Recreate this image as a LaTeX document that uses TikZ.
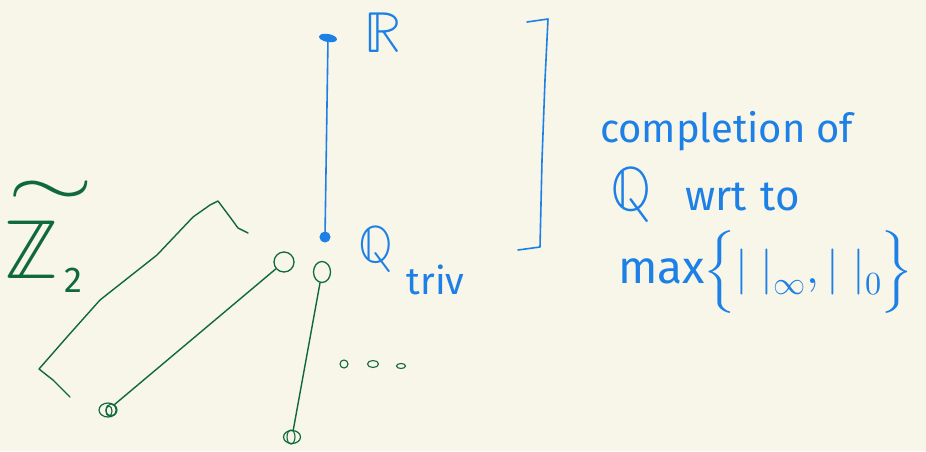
\documentclass[tikz,border=0pt]{standalone}
\usepackage{fontspec}
\usepackage{unicode-math}
\setmainfont{Fira Sans}
\setmathfont{Latin Modern Math}
\usetikzlibrary{shapes.geometric}

\definecolor{paper}{HTML}{F8F5E9}
\definecolor{inkblue}{HTML}{1C80E6}
\definecolor{inkgreen}{HTML}{10693E}

\tikzset{
  blueline/.style={draw=inkblue, line width=1.6pt, line cap=round, line join=round},
  greenline/.style={draw=inkgreen, line width=1.4pt, line cap=round, line join=round},
  bluetext/.style={text=inkblue, inner sep=0pt, outer sep=0pt},
  greentext/.style={text=inkgreen, inner sep=0pt, outer sep=0pt},
  bluedot/.style={circle, fill=inkblue, draw=inkblue, line width=1pt, inner sep=0pt, minimum size=10pt},
  flatdot/.style={ellipse, fill=inkblue, draw=inkblue, line width=1pt, inner sep=0pt,
                  minimum width=17pt, minimum height=7pt, rotate=-10},
  opendot/.style={ellipse, draw=inkgreen, line width=1.3pt, inner sep=0pt},
  scribble/.style={ellipse, draw=inkgreen, line width=1.2pt, inner sep=0pt,
                   minimum width=18pt, minimum height=14pt},
  tinyloop/.style={ellipse, draw=inkgreen, line width=1.1pt, inner sep=0pt}
}

\begin{document}
\begin{tikzpicture}[x=1pt, y=-1pt]
  \useasboundingbox (0,0) rectangle (926,451);
  \fill[paper] (0,0) rectangle (926,451);

  % ---------- the real line R over Q_triv ----------
  \node[flatdot] (rdot) at (328,38) {};
  \node[bluedot] (qdot) at (325,237) {};
  \draw[blueline] (rdot) -- (qdot);

  \node[bluetext, anchor=base west] (rlabel) at (364,52)
    {\fontsize{58}{60}\selectfont$\mathbb{R}$};
  \node[bluetext, anchor=base west] (qlabel) at (358,262)
    {\fontsize{52}{54}\selectfont$\mathbb{Q}$\kern14pt\lower32pt\hbox{\fontsize{38}{40}\selectfont triv}};

  % closing bracket for the completion
  \draw[blueline] (527,22) -- (548,19) -- (545,80) -- (542,160) -- (540,247) -- (518,250);

  % ---------- explanation ----------
  \node[bluetext, anchor=base west] (line1) at (600,142)
    {\fontsize{40}{42}\selectfont completion of};
  \node[bluetext, anchor=base west] (line2) at (610,210)
    {\fontsize{42}{44}\selectfont{\fontsize{62}{64}\selectfont$\mathbb{Q}$}\hspace{34pt}wrt\hspace{14pt}to};
  \node[bluetext, anchor=base west] (line3) at (618,283)
    {\fontsize{46}{48}\selectfont max$\Bigl\{|\;|_{\infty},|\;|_{0}\Bigr\}$};

  % ---------- the 2-adic branch: a wide tilde set well above the Z ----------
  \node[greentext, anchor=base west] (zlabel) at (4,278)
    {\fontsize{84}{86}\selectfont\rlap{\kern4pt\raisebox{72pt}{\scalebox{1.6}[1]{\fontsize{70}{70}\selectfont$\sim$}}}$\mathbb{Z}$\kern4pt\lower14pt\hbox{\fontsize{36}{40}\selectfont 2}};

  \node[opendot, minimum width=20pt, minimum height=20pt] (c1) at (284,262) {};
  \node[scribble] (d1) at (108,410) {};
  \draw[inkgreen, line width=1.1pt] ([shift={(3,0)}]d1.center) ellipse (5 and 6);
  \draw[inkgreen, line width=1.1pt] ([shift={(1,1)}]d1.center) ellipse (3 and 5);
  \draw[greenline] (c1) -- (d1);

  \node[opendot, minimum width=17pt, minimum height=21pt] (c2) at (322,272) {};
  \node[scribble, minimum width=17pt, minimum height=13pt] (d2) at (292,437) {};
  \draw[inkgreen, line width=1.1pt] ([shift={(-1,0)}]d2.center) ellipse (4 and 7);
  \draw[greenline] (c2) -- (d2);

  % bracket collecting the 2-adic points
  \draw[greenline] (248,233) -- (238,228) -- (230,217) -- (218,201) -- (210,205)
    -- (193,217) -- (157,255) -- (100,300) -- (67,337) -- (39,369)
    -- (53,380) -- (70,397);

  % further places
  \node[tinyloop, minimum width=8pt, minimum height=8pt] (p1) at (344,364) {};
  \node[tinyloop, minimum width=11pt, minimum height=7pt] (p2) at (373,364) {};
  \node[tinyloop, minimum width=9pt, minimum height=5pt] (p3) at (401,366) {};
\end{tikzpicture}
\end{document}
